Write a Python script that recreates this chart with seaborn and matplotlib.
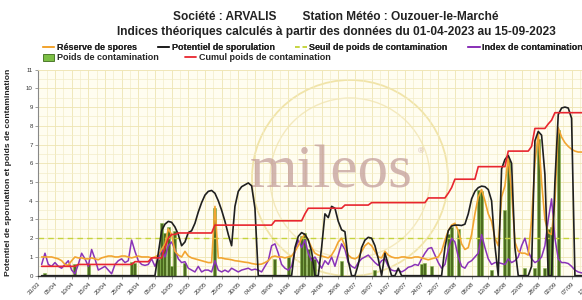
import numpy as np
import pandas as pd
import matplotlib
matplotlib.use('Agg')  # no display
import matplotlib.pyplot as plt
import matplotlib.dates as mdates
from matplotlib.lines import Line2D
from matplotlib.patches import Patch, Circle
import seaborn as sns

# ---- data (one value per day, 01/04 -> 15/09/2023) ----
first_day = "2023-04-01"

reserve_spores = [
    1.0, 1.0, 1.0, 1.0, 0.95, 0.9, 0.8, 0.6, 0.55, 0.8,
    1.0, 0.95, 0.95, 0.9, 0.9, 0.95, 0.9, 0.85, 0.95, 1.0,
    1.05, 1.05, 1.0, 1.0, 1.05, 1.05, 1.0, 0.95, 1.0, 1.05,
    1.0, 1.0, 1.0, 0.95, 1.0, 1.1, 1.4, 1.7, 2.5, 2.2,
    1.3, 1.1, 1.0, 1.3, 1.05, 0.95, 0.9, 0.85, 0.8, 0.75,
    0.7, 0.7, 3.7, 0.95, 0.95, 0.9, 0.88, 0.85, 0.8, 0.78,
    0.75, 0.72, 0.7, 0.65, 0.62, 0.6, 0.62, 0.7, 0.8, 1.0,
    1.05, 1.0, 1.0, 0.95, 1.0, 1.05, 1.3, 1.6, 2.0, 2.2,
    1.9, 1.5, 1.2, 1.1, 1.05, 1.0, 0.95, 1.1, 1.4, 1.8,
    2.0, 1.6, 1.1, 0.95, 0.9, 1.0, 1.3, 1.6, 1.75, 1.6,
    1.3, 1.0, 0.95, 1.3, 1.1, 1.0, 0.95, 0.95, 1.0, 1.0,
    0.95, 0.95, 1.0, 1.0, 0.95, 0.9, 0.85, 0.9, 0.95, 1.0,
    1.3, 1.9, 2.4, 2.7, 2.8, 2.4, 1.7, 1.4, 1.5, 2.2,
    3.3, 4.2, 4.6, 4.0, 3.3, 2.9, 2.0, 1.6, 4.2, 4.8,
    6.3, 4.5, 1.8, 1.3, 1.2, 1.2, 1.1, 3.0, 6.0, 7.6,
    5.0, 3.0, 2.3, 2.2, 4.0, 7.9, 7.4, 7.1, 6.9, 6.75,
    6.65, 6.6, 6.6, 6.55, 6.5, 6.5, 6.45, 6.4,
]

potentiel_sporulation = [
    0, 0, 0, 0, 0, 0, 0, 0, 0, 0,
    0, 0, 0, 0, 0, 0, 0, 0, 0, 0,
    0, 0, 0, 0, 0, 0, 0, 0, 0, 0,
    0, 0, 0, 0, 0, 1.2, 2.4, 2.75, 2.9, 2.85,
    2.6, 2.2, 1.6, 1.8, 2.3, 2.4, 2.8, 3.4, 3.9, 4.3,
    4.5, 4.55, 4.4, 4.0, 3.5, 2.9, 2.2, 1.6, 3.7, 4.5,
    4.75, 4.85, 4.95, 4.8, 3.6, 0, 0, 0, 0, 0,
    0, 0, 0, 0, 0, 0, 1.5, 2.1, 2.3, 2.2,
    1.9, 1.3, 0, 0, 1.5, 3.3, 3.1, 3.7, 3.6, 2.9,
    2.45, 2.35, 0.8, 0, 0, 0.6, 1.5, 1.9, 2.05, 2.0,
    1.6, 0.9, 0, 1.2, 0.6, 0, 0, 0.4, 0, 0,
    0, 0, 0, 0, 0, 0, 0, 0, 0, 0,
    0, 1.5, 2.4, 2.65, 2.7, 2.7, 2.68, 2.75, 3.3, 4.1,
    4.5, 4.7, 4.78, 4.75, 4.6, 4.0, 1.6, 0, 5.7, 6.2,
    6.42, 6.0, 1.5, 0, 0, 0, 0, 0.5, 7.2, 7.7,
    7.5, 5.4, 0, 0, 5.0, 8.6, 8.95, 9.0, 8.95, 8.4,
    0, 0, 0, 0, 0, 0, 0, 0,
]

index_contamination = [
    0.6, 1.2, 0.6, 0.5, 0.7, 0.5, 0.4, 0.6, 0.8, 0.3,
    0.1, 0.6, 1.2, 0.9, 0.5, 1.4, 0.9, 0.3, 0.4, 0.5,
    0.3, 0.1, 0.6, 0.8, 0.9, 0.7, 0.8, 1.9, 1.3, 0.8,
    0.6, 0.55, 0.6, 0.9, 0.5, 0.9, 1.4, 1.0, 1.6, 1.8,
    1.4, 0.9, 0.7, 0.75, 0.4, 0.3, 0.2, 0.5, 0.2, 0.3,
    0.3, 0.2, 0.8, 0.3, 0.2, 0.3, 0.2, 0.4, 0.3, 0.2,
    0.3, 0.35, 0.4, 0.3, 0.35, 0.3, 0.2, 0.5, 0.8, 1.6,
    1.7, 1.2, 0.6, 0.4, 0.3, 0.5, 1.3, 1.9, 1.5, 1.9,
    1.2, 0.8, 1.0, 0.7, 0.4, 0.8, 0.6, 1.0, 0.5, 1.1,
    1.7, 1.4, 0.7, 0.5, 0.4, 0.7, 0.9, 1.0, 1.1, 0.9,
    0.7, 0.55, 0.8, 0.9, 0.5, 0.3, 0.25, 0.3, 0.2, 0.3,
    0.45, 0.5, 0.6, 0.55, 0.9, 1.2, 1.45, 1.5, 1.1, 0.7,
    0.4, 0.6, 1.4, 2.0, 1.8, 1.0, 0.5, 0.4, 0.7, 0.8,
    1.0, 1.2, 2.2, 1.5, 0.9, 0.6, 0.7, 0.7, 0.65, 0.6,
    0.9, 0.7, 0.8, 1.0, 1.6, 2.0, 1.3, 0.9, 0.7, 0.8,
    1.0, 1.6, 3.0, 4.1, 2.0, 0.9, 0.7, 0.7, 0.65, 0.5,
    0.3, 0.2, 0.15, 0.2, 0.3, 0.2, 0.1, 0.2,
]

cumul_poids = [
    0.5, 0.5, 0.5, 0.5, 0.5, 0.5, 0.5, 0.5, 0.5, 0.5,
    0.5, 0.6, 0.6, 0.6, 0.6, 0.6, 0.6, 0.6, 0.6, 0.6,
    0.6, 0.6, 0.6, 0.6, 0.6, 0.6, 0.6, 0.6, 0.75, 0.75,
    0.75, 0.75, 0.75, 0.95, 0.95, 0.95, 0.95, 1.5, 2.0, 2.2,
    2.2, 2.28, 2.28, 2.28, 2.28, 2.28, 2.28, 2.28, 2.28, 2.28,
    2.28, 2.28, 2.7, 2.7, 2.7, 2.7, 2.7, 2.7, 2.7, 2.7,
    2.7, 2.7, 2.7, 2.7, 2.7, 2.7, 2.7, 2.7, 2.7, 2.7,
    2.93, 2.93, 2.93, 2.93, 2.93, 2.93, 2.93, 2.93, 2.93, 3.3,
    3.6, 3.6, 3.6, 3.6, 3.6, 3.6, 3.6, 3.6, 3.6, 3.6,
    3.6, 3.77, 3.77, 3.77, 3.77, 3.77, 3.77, 3.77, 3.77, 3.9,
    3.9, 3.9, 3.9, 3.9, 3.9, 3.9, 3.9, 3.9, 3.9, 3.9,
    3.9, 3.9, 3.9, 3.9, 3.9, 3.9, 4.15, 4.15, 4.15, 4.15,
    4.15, 4.15, 4.4, 4.7, 5.15, 5.15, 5.15, 5.15, 5.15, 5.15,
    5.15, 5.82, 5.82, 5.82, 5.82, 5.82, 5.82, 5.82, 5.82, 5.82,
    6.65, 6.65, 6.65, 6.65, 6.65, 6.65, 6.65, 6.9, 7.86, 7.86,
    7.86, 7.86, 8.1, 8.3, 8.7, 8.7, 8.7, 8.7, 8.7, 8.7,
    8.7, 8.7, 8.7, 8.7, 8.7, 8.7, 8.7, 8.7,
]

# contamination weights (bars)
poids_dates = [
    "2023-04-02", "2023-04-11", "2023-04-15", "2023-04-28", "2023-04-29",
    "2023-05-06", "2023-05-07", "2023-05-08", "2023-05-09", "2023-05-10",
    "2023-05-11", "2023-05-14", "2023-05-23", "2023-06-10", "2023-06-14",
    "2023-06-18", "2023-06-19", "2023-06-20", "2023-06-21", "2023-06-22",
    "2023-06-30", "2023-07-10", "2023-07-24", "2023-07-25", "2023-07-27",
    "2023-08-01", "2023-08-02", "2023-08-04", "2023-08-10", "2023-08-11",
    "2023-08-14", "2023-08-18", "2023-08-19", "2023-08-24", "2023-08-27",
    "2023-08-28", "2023-08-30", "2023-08-31", "2023-09-01", "2023-09-03",
]
poids_values = [
    0.15, 0.6, 0.6, 0.75, 0.7,
    0.9, 2.8, 2.3, 2.6, 0.5,
    2.4, 0.7, 3.6, 0.9, 1.0,
    2.1, 2.3, 1.4, 1.0, 0.9,
    0.8, 0.3, 0.6, 0.7, 0.5,
    2.2, 2.6, 2.5, 4.6, 4.5,
    0.3, 3.5, 6.2, 0.4, 0.4,
    7.3, 0.4, 2.5, 2.6, 7.8,
]

seuil_contamination = 2.0

tick_labels = [
    "31/03", "05/04", "10/04", "15/04", "20/04", "25/04", "30/04", "05/05",
    "10/05", "15/05", "20/05", "25/05", "30/05", "04/06", "09/06", "14/06",
    "19/06", "24/06", "29/06", "04/07", "09/07", "14/07", "19/07", "24/07",
    "29/07", "03/08", "08/08", "13/08", "18/08", "23/08", "28/08", "02/09",
    "07/09", "12/09",
]

# ---- build table ----
df = pd.DataFrame({
    "date": pd.date_range(first_day, periods=len(reserve_spores), freq="D"),
    "reserve": reserve_spores,
    "potentiel": potentiel_sporulation,
    "index": index_contamination,
    "cumul": cumul_poids,
})
bars = pd.DataFrame({"date": pd.to_datetime(poids_dates), "poids": poids_values})
tick_dates = [pd.Timestamp(f"2023-{t[3:5]}-{t[0:2]}") for t in tick_labels]

sns.set_theme(style="white")
plt.rcParams["font.family"] = ["Liberation Sans", "DejaVu Sans"]

C_ORANGE = "#f2a531"
C_BLACK = "#1f1f1f"
C_PURPLE = "#8a33b8"
C_RED = "#e8262f"
C_SEUIL = "#c5d43c"
C_BAR = "#4d6b20"

W, H = 582, 300
fig = plt.figure(figsize=(W / 100, H / 100), dpi=100)

x0 = pd.Timestamp("2023-03-31")
x1 = pd.Timestamp("2023-09-16")
px_day = 3.333
n_span = (x1 - x0).days
ax = fig.add_axes([38.3 / W, 24.3 / H, n_span * px_day / W, 206.1 / H])
ax.set_facecolor("#fffdf0")

# watermark behind the data
ax.add_patch(Circle((3.50, 1.22), 0.98, transform=fig.dpi_scale_trans,
                    fill=False, ec="#f1e4a8", lw=1.3, zorder=0.5))
ax.add_patch(Circle((3.50, 1.22), 0.80, transform=fig.dpi_scale_trans,
                    fill=False, ec="#f4e9bd", lw=1.0, zorder=0.5))
ax.text(331 / W, 1 - 188 / H, "mileos", transform=fig.transFigure,
        family=["Liberation Serif", "DejaVu Serif"], fontsize=44,
        color="#c49e9b", alpha=0.75, ha="center", va="baseline", zorder=0.6)
ax.text(421 / W, 1 - 152 / H, "®", transform=fig.transFigure,
        fontsize=6, color="#c49e9b", alpha=0.75, ha="center", va="center", zorder=0.6)

# bars
ax.bar(bars["date"], bars["poids"], width=0.9, color=C_BAR, edgecolor="#86b84a",
       linewidth=0.4, zorder=1.5)

ax.axhline(seuil_contamination, color=C_SEUIL, lw=1.0, ls=(0, (4, 3)), zorder=1.8)

sns.lineplot(data=df, x="date", y="index", ax=ax, color=C_PURPLE, lw=1.1, legend=False, zorder=2)
sns.lineplot(data=df, x="date", y="reserve", ax=ax, color=C_ORANGE, lw=1.2, legend=False, zorder=2.1)
sns.lineplot(data=df, x="date", y="potentiel", ax=ax, color=C_BLACK, lw=1.2, legend=False, zorder=2.2)
sns.lineplot(data=df, x="date", y="cumul", ax=ax, color=C_RED, lw=1.2, legend=False, zorder=2.3)

ax.set_xlim(x0, x1)
ax.set_ylim(0, 11)

ax.set_xticks(tick_dates)
ax.set_xticklabels(tick_labels, rotation=45, ha="right", rotation_mode="anchor",
                   fontsize=4.4, color="#333333")
ax.set_xticks(mdates.date2num(tick_dates) + 2.5, minor=True)
ax.set_yticks(range(0, 12))
ax.set_yticklabels([str(v) for v in range(0, 12)], fontsize=4.4, color="#333333")
ax.set_yticks(np.arange(0.5, 11, 1.0), minor=True)
ax.tick_params(axis="both", which="major", length=2.5, width=0.5, color="#777777", pad=1.5,
               left=True, bottom=True)
ax.tick_params(axis="both", which="minor", length=0)

ax.grid(which="major", color="#eee5b2", lw=0.6)
ax.grid(which="minor", color="#f3edc8", lw=0.5)
ax.set_axisbelow(True)

for side in ["top", "right"]:
    ax.spines[side].set_color("#f0e6b8")
    ax.spines[side].set_linewidth(0.6)
ax.spines["left"].set_color("#888888")
ax.spines["left"].set_linewidth(0.8)
ax.spines["bottom"].set_color("#333333")
ax.spines["bottom"].set_linewidth(1.0)

ax.set_xlabel("")
ax.set_ylabel("Potentiel de sporulation et poids de contamination",
              fontsize=6.1, weight="bold", color="#222222")
ax.yaxis.set_label_coords((12 - 38.3) / (n_span * px_day), 0.5)

# titles
fig.text(336 / W, 1 - 17 / H, "Société : ARVALIS        Station Météo : Ouzouer-le-Marché",
         ha="center", va="center", fontsize=8.6, weight="bold", color="#222222")
fig.text(336 / W, 1 - 32 / H,
         "Indices théoriques calculés à partir des données du 01-04-2023 au 15-09-2023",
         ha="center", va="center", fontsize=8.6, weight="bold", color="#222222")

# legend, two rows
leg_font = {"weight": "bold", "size": 6.5}
row1 = [
    Line2D([], [], color=C_ORANGE, lw=1.3, label="Réserve de spores"),
    Line2D([], [], color=C_BLACK, lw=1.3, label="Potentiel de sporulation"),
    Line2D([], [], color=C_SEUIL, lw=1.1, ls=(0, (3, 2)), label="Seuil de poids de contamination"),
    Line2D([], [], color=C_PURPLE, lw=1.3, label="Index de contamination"),
]
row2 = [
    Patch(facecolor="#7cbf45", edgecolor="#3d6b1a", lw=0.6, label="Poids de contamination"),
    Line2D([], [], color=C_RED, lw=1.3, label="Cumul poids de contamination"),
]
l1 = fig.legend(handles=row1, loc="center left", bbox_to_anchor=(43 / W, 1 - 47.5 / H),
                ncol=4, frameon=False, prop=leg_font, handlelength=1.25, handletextpad=0.3,
                columnspacing=2.3, borderpad=0, borderaxespad=0)
fig.legend(handles=row2, loc="center left", bbox_to_anchor=(43 / W, 1 - 58 / H),
           ncol=2, frameon=False, prop=leg_font, handlelength=1.25, handletextpad=0.3,
           handleheight=0.8, columnspacing=2.9, borderpad=0, borderaxespad=0)
fig.add_artist(l1)

fig.savefig("out.png", dpi=100, facecolor="white")
